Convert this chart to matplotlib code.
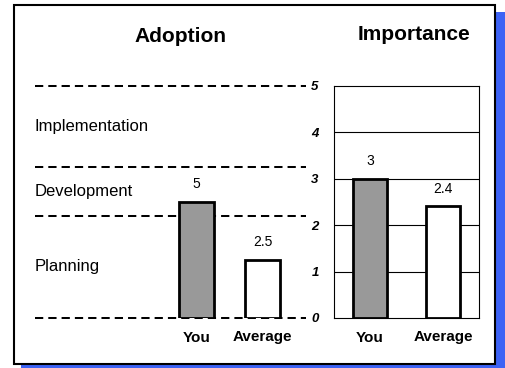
import matplotlib
matplotlib.use("Agg")
import matplotlib.pyplot as plt
from matplotlib.patches import Rectangle

# values
groups = ["You", "Average"]
adoption = [5, 2.5]          # adoption score, drawn on a 0-10 scale
importance = [3, 2.4]        # importance score, 0-5 scale
stage_names = ["Planning", "Development", "Implementation"]
stage_bounds = [0, 4.4, 6.5, 10]
scale_ticks = [0, 1, 2, 3, 4, 5]
bar_colors = ["#999999", "white"]

plt.rcParams["font.family"] = ["Liberation Sans", "DejaVu Sans"]

W, H = 505, 368
fig = plt.figure(figsize=(W / 100, H / 100), dpi=100)


def box(x0, y0, x1, y1):
    # pixel box (top-left origin) -> figure fraction rect
    return [x0 / W, 1 - y1 / H, (x1 - x0) / W, (y1 - y0) / H]


# blue drop shadow and white frame, kept behind the axes
fig.patches.append(Rectangle((21 / W, 1 - 372 / H), 490 / W, 360 / H,
                             transform=fig.transFigure, facecolor="#3d63f5",
                             edgecolor="none", zorder=-3))
fig.patches.append(Rectangle((14 / W, 1 - 364 / H), 481 / W, 359 / H,
                             transform=fig.transFigure, facecolor="white",
                             edgecolor="black", linewidth=1.5, zorder=-2))

# ---- Adoption (left) ----
ax1 = fig.add_axes(box(35, 85.7, 306, 318))
ax1.set_facecolor("none")
x = range(len(groups))
ax1.bar(x, adoption, width=0.53, color=bar_colors, edgecolor="black",
        linewidth=2, zorder=3)
for b in stage_bounds:
    ax1.axhline(b, color="black", linewidth=1.45, linestyle=(0, (4.1, 2.5)),
                clip_on=False, zorder=2)
for name, lo, hi in zip(stage_names, stage_bounds[:-1], stage_bounds[1:]):
    ax1.text(0.0, (lo + hi) / 2, name, transform=ax1.get_yaxis_transform(),
             ha="left", va="center", fontsize=12)
for i, v in enumerate(adoption):
    ax1.annotate(f"{v:g}", (i, v), xytext=(0, 13), textcoords="offset points",
                 ha="center", va="center", fontsize=10)
ax1.set_xlim(-2.447, 1.659)
ax1.set_ylim(0, 10)
ax1.set_xticks(list(x))
ax1.set_xticklabels(groups, fontsize=11, fontweight="bold")
ax1.tick_params(axis="x", length=0, pad=9)
ax1.set_yticks([])
for s in ax1.spines.values():
    s.set_visible(False)

# ---- Importance (right) ----
ax2 = fig.add_axes(box(334, 85.7, 479.3, 318))
ax2.bar(x, importance, width=0.466, color=bar_colors, edgecolor="black",
        linewidth=2, zorder=3)
for g in scale_ticks[1:-1]:
    ax2.axhline(g, color="black", linewidth=0.8, zorder=1)
for i, v in enumerate(importance):
    ax2.annotate(f"{v:g}", (i, v), xytext=(0, 12.5), textcoords="offset points",
                 ha="center", va="center", fontsize=10)
ax2.set_xlim(-0.493, 1.497)
ax2.set_ylim(0, 5)
ax2.set_xticks(list(x))
ax2.set_xticklabels(groups, fontsize=11, fontweight="bold")
ax2.set_yticks(scale_ticks)
ax2.set_yticklabels([str(t) for t in scale_ticks], fontsize=9.5,
                    fontweight="bold", fontstyle="italic")
ax2.tick_params(axis="x", length=0, pad=9)
ax2.tick_params(axis="y", length=0, pad=11)
for s in ax2.spines.values():
    s.set_linewidth(0.8)

fig.text(180 / W, 1 - 37 / H, "Adoption", ha="center", va="center",
         fontsize=15, fontweight="bold")
fig.text(414 / W, 1 - 35 / H, "Importance", ha="center", va="center",
         fontsize=15, fontweight="bold")

fig.savefig("out.png", dpi=100)
